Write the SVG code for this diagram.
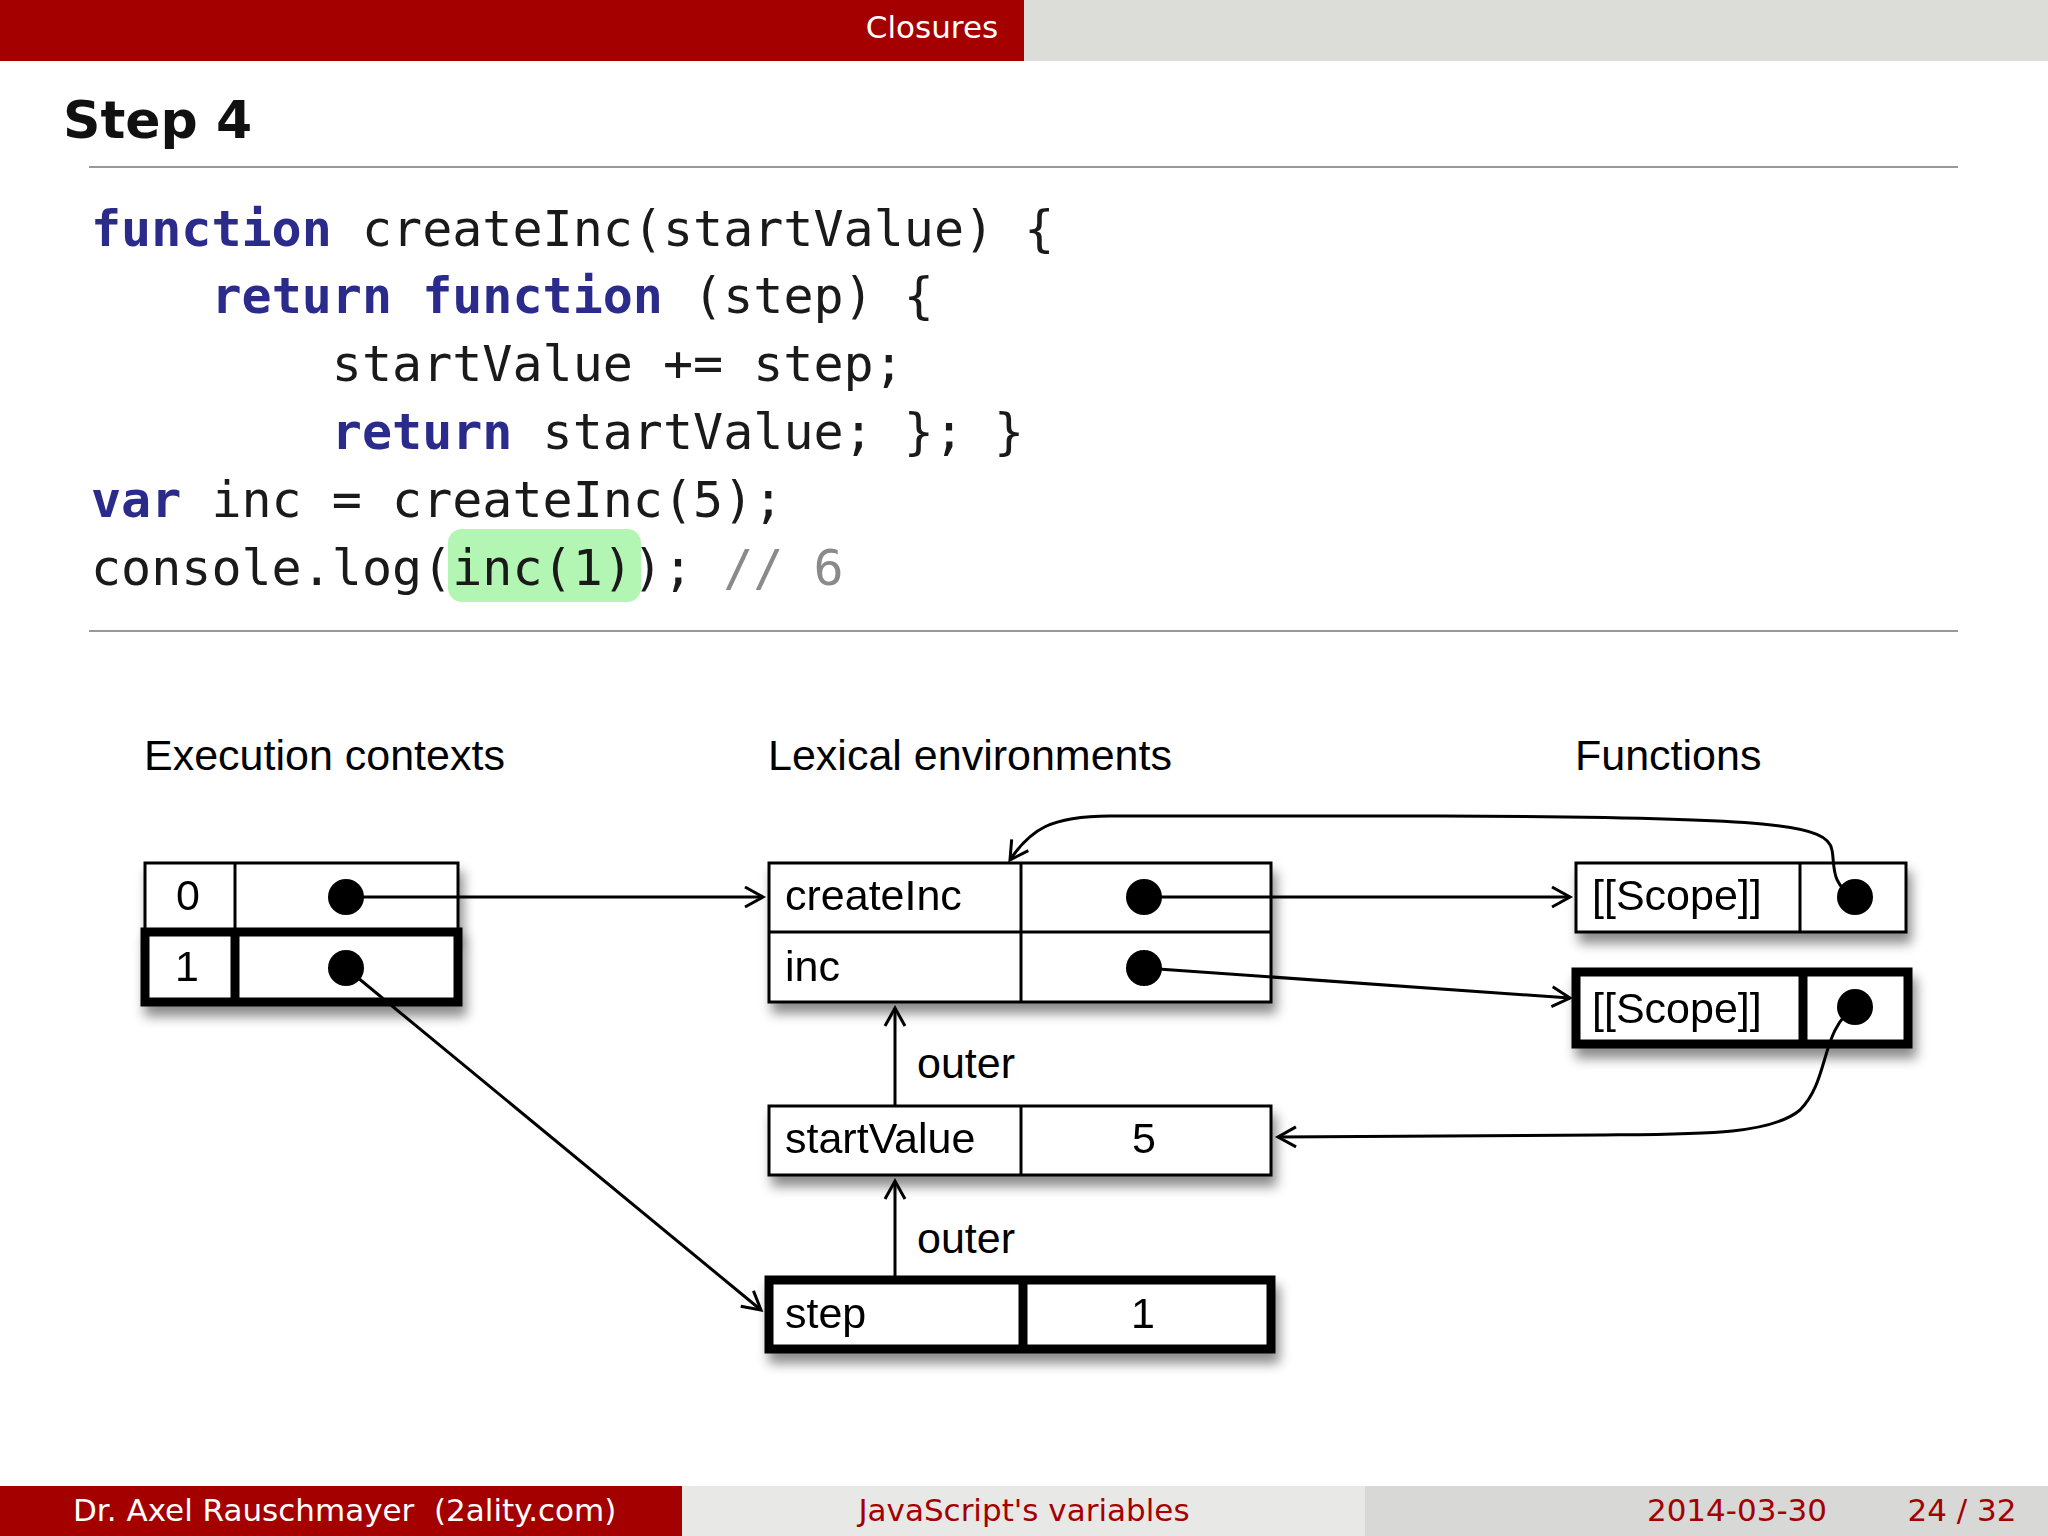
<svg xmlns="http://www.w3.org/2000/svg" width="2048" height="1536" viewBox="0 0 2048 1536">
<style>
.sf{font-family:"Liberation Sans",Arial,sans-serif}
.code{font-family:"DejaVu Sans Mono",monospace;font-size:50px;fill:#1a1a1a}
.kw{fill:#2b2b8c;font-weight:bold}
.cm{fill:#8a8a8a}
.lbl{font-family:"Liberation Sans",Arial,sans-serif;font-size:43px;fill:#000}
.cell{fill:#fff;stroke:#000;stroke-width:3}
.thick{fill:#fff;stroke:#000;stroke-width:9}
.con{fill:none;stroke:#000;stroke-width:3}
.foot{font-family:"DejaVu Sans",sans-serif;font-size:31px}
</style>
<defs>
<marker id="ah" markerWidth="24" markerHeight="24" refX="20" refY="12" orient="auto" markerUnits="userSpaceOnUse"><path d="M2,2 L20,12 L2,22" fill="none" stroke="#000" stroke-width="3"/></marker>
<filter id="sh" x="-10%" y="-20%" width="130%" height="160%"><feDropShadow dx="4" dy="10" stdDeviation="6" flood-color="#000" flood-opacity="0.45"/></filter>
</defs>
<rect width="2048" height="1536" fill="#fff"/>
<rect x="0" y="0" width="1024" height="61" fill="#a50000"/>
<rect x="1024" y="0" width="1024" height="61" fill="#dcdcd9"/>
<text x="932" y="38" class="foot" fill="#fff" text-anchor="middle">Closures</text>
<text x="63" y="138" font-family="DejaVu Sans,sans-serif" font-weight="bold" font-size="52" fill="#111">Step 4</text>
<line x1="89" y1="167" x2="1958" y2="167" stroke="#999" stroke-width="2"/>
<rect x="448" y="529" width="193" height="73" rx="14" fill="#b3f5b3"/>
<text class="code" x="91" y="246"><tspan class="kw">function</tspan> createInc(startValue) {</text>
<text class="code" x="91" y="313" xml:space="preserve">    <tspan class="kw">return</tspan> <tspan class="kw">function</tspan> (step) {</text>
<text class="code" x="91" y="381" xml:space="preserve">        startValue += step;</text>
<text class="code" x="91" y="449" xml:space="preserve">        <tspan class="kw">return</tspan> startValue; }; }</text>
<text class="code" x="91" y="517"><tspan class="kw">var</tspan> inc = createInc(5);</text>
<text class="code" x="91" y="585" xml:space="preserve">console.log(inc(1)); <tspan class="cm">// 6</tspan></text>
<line x1="89" y1="631" x2="1958" y2="631" stroke="#999" stroke-width="2"/>
<text class="lbl" x="144" y="770">Execution contexts</text>
<text class="lbl" x="768" y="770">Lexical environments</text>
<text class="lbl" x="1575" y="770">Functions</text>
<g id="ec0" filter="url(#sh)"><rect class="cell" x="145" y="863" width="313" height="69"/><line class="cell" x1="235" y1="863" x2="235" y2="932"/><text class="lbl" x="188" y="910" text-anchor="middle">0</text><circle cx="346" cy="897" r="18"/></g>
<g id="ec1" filter="url(#sh)"><rect class="thick" x="145" y="932" width="313" height="70"/><line class="thick" x1="235" y1="932" x2="235" y2="1002"/><text class="lbl" x="187" y="981" text-anchor="middle">1</text><circle cx="346" cy="968" r="18"/></g>
<g id="le1" filter="url(#sh)"><rect class="cell" x="769" y="863" width="502" height="139"/><line class="cell" x1="769" y1="932" x2="1271" y2="932"/><line class="cell" x1="1021" y1="863" x2="1021" y2="1002"/><text class="lbl" x="785" y="910">createInc</text><text class="lbl" x="785" y="981">inc</text><circle cx="1144" cy="897" r="18"/><circle cx="1144" cy="968" r="18"/></g>
<g id="le2" filter="url(#sh)"><rect class="cell" x="769" y="1106" width="502" height="69"/><line class="cell" x1="1021" y1="1106" x2="1021" y2="1175"/><text class="lbl" x="785" y="1153">startValue</text><text class="lbl" x="1144" y="1153" text-anchor="middle">5</text></g>
<g id="le3" filter="url(#sh)"><rect class="thick" x="769" y="1280" width="502" height="69"/><line class="thick" x1="1023" y1="1280" x2="1023" y2="1349"/><text class="lbl" x="785" y="1328">step</text><text class="lbl" x="1143" y="1328" text-anchor="middle">1</text></g>
<g id="f1" filter="url(#sh)"><rect class="cell" x="1576" y="863" width="330" height="69"/><line class="cell" x1="1800" y1="863" x2="1800" y2="932"/><text class="lbl" x="1592" y="910">[[Scope]]</text><circle cx="1855" cy="897" r="18"/></g>
<g id="f2" filter="url(#sh)"><rect class="thick" x="1576" y="972" width="332" height="72"/><line class="thick" x1="1803" y1="972" x2="1803" y2="1044"/><text class="lbl" x="1592" y="1023">[[Scope]]</text><circle cx="1855" cy="1007" r="18"/></g>
<g id="connectors">
<path class="con" d="M346,897 L763,897" marker-end="url(#ah)"/>
<path class="con" d="M346,968 L761,1310" marker-end="url(#ah)"/>
<path class="con" d="M1144,897 L1570,897" marker-end="url(#ah)"/>
<path class="con" d="M1144,968 L1570,998" marker-end="url(#ah)"/>
<path class="con" d="M1855,897 C1830,885 1835,865 1832,850 C1828,825 1780,817 1440,816 L1110,816 C1050,816 1030,830 1010,860" marker-end="url(#ah)"/>
<path class="con" d="M1855,1007 C1820,1030 1830,1080 1800,1110 C1770,1135 1700,1134 1600,1135 L1278,1137" marker-end="url(#ah)"/>
<path class="con" d="M895,1106 L895,1008" marker-end="url(#ah)"/>
<path class="con" d="M895,1280 L895,1181" marker-end="url(#ah)"/>
<text class="lbl" x="917" y="1078">outer</text>
<text class="lbl" x="917" y="1253">outer</text>
</g>
<rect x="0" y="1486" width="682" height="50" fill="#a50000"/>
<rect x="682" y="1486" width="683" height="50" fill="#e8e8e6"/>
<rect x="1365" y="1486" width="683" height="50" fill="#d8d8d6"/>
<text x="73" y="1521" class="foot" fill="#fff" xml:space="preserve">Dr. Axel Rauschmayer  (2ality.com)</text>
<text x="1024" y="1521" class="foot" fill="#a50000" text-anchor="middle">JavaScript's variables</text>
<text x="1737" y="1521" class="foot" fill="#a50000" text-anchor="middle">2014-03-30</text>
<text x="1962" y="1521" class="foot" fill="#a50000" text-anchor="middle">24 / 32</text>
</svg>
